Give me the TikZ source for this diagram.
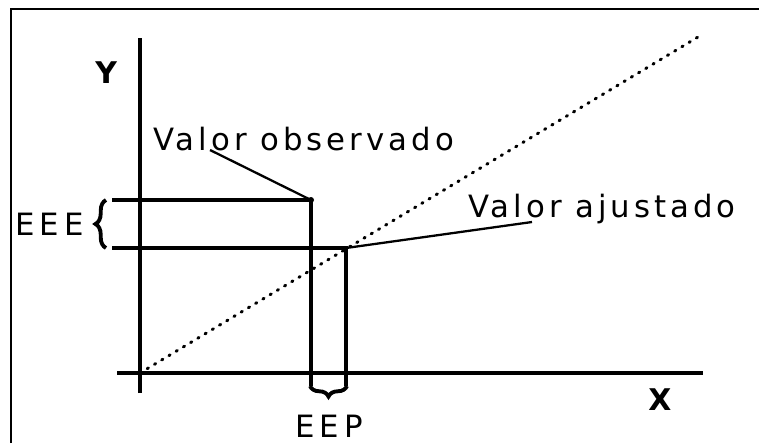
\documentclass[tikz,border=0pt]{standalone}
\usepackage{fontspec}
\newfontfamily\plotfont{DejaVu Sans}[LetterSpace=13]
\usetikzlibrary{decorations.pathreplacing}

\begin{document}
\begin{tikzpicture}[
  x=0.02cm, y=-0.02cm,
  axis/.style={line width=2.2pt},
  guide/.style={line width=1.8pt},
  fitline/.style={line width=1.7pt, line cap=round, dash pattern=on 0.8pt off 4pt},
  lbl/.style={font=\plotfont\fontsize{17.5}{19}\selectfont, inner sep=0pt, anchor=base west},
  axlbl/.style={font=\plotfont\bfseries\fontsize{17}{18}\selectfont, inner sep=0pt, anchor=base west},
  brc/.style={decorate, decoration={brace, amplitude=6pt}, line width=2.2pt}
]
\useasboundingbox (0,0) rectangle (759,443);
% frame
\coordinate (fbl) at (11,443);
\coordinate (ftl) at (11,9);
\coordinate (ftr) at (759,9);
\draw[line width=1.3pt] (fbl) -- (ftl) -- (ftr);

% axes
\coordinate (o) at (140,373);
\coordinate (ytop) at (140,38);
\coordinate (ybot) at (140,393);
\coordinate (xleft) at (117,373);
\coordinate (xright) at (703,373);
\draw[axis] (ybot) -- (ytop);
\draw[axis] (xleft) -- (xright);
\node[axlbl] (ylab) at (95,83) {Y};
\node[axlbl] (xlab) at (648,410) {X};

% fitted line
\coordinate (fend) at (698,37);
\draw[fitline] (o) -- (fend);

% observed and fitted values
\coordinate (obs) at (311,200);
\coordinate (fit) at (346,248);
\coordinate (obsleft) at (112,200);
\coordinate (fitleft) at (112,248);
\coordinate (obsdown) at (311,386);
\coordinate (fitdown) at (346,386);
\draw[guide] (obsleft) -- (obs) -- (obsdown);
\draw[guide] (fitleft) -- (fit) -- (fitdown);
\fill (obs) circle (3);

% labels
\node[lbl] (obstxt) at (153,150) {Valor observado};
\node[lbl] (fittxt) at (468,217) {Valor ajustado};
\coordinate (obstip) at (210,150);
\coordinate (fittip) at (532,222);
\draw[line width=1.3pt] (obs) -- (obstip);
\draw[line width=1.3pt] (fit) -- (fittip);

% errors
\draw[brc] (106,248) -- (106,200);
\node[lbl] (eee) at (15,235) {E\,E\,E};
\draw[brc] (347,386) -- (310,386);
\node[lbl] (eep) at (295,437) {E\,E\,P};
\end{tikzpicture}
\end{document}
